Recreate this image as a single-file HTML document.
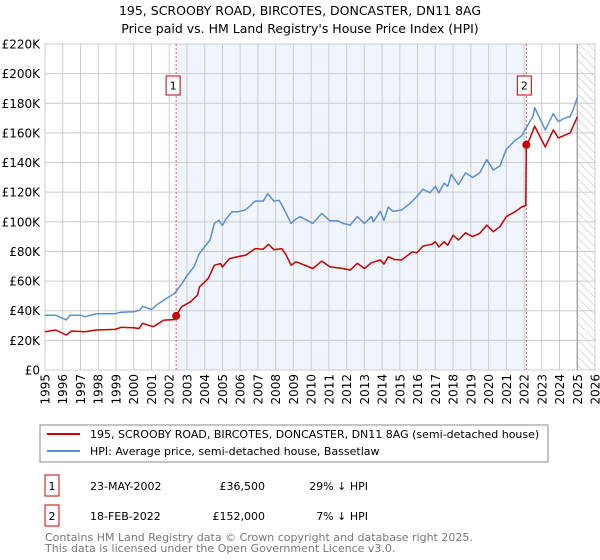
<!DOCTYPE html>
<html><head><meta charset="utf-8"><style>
body{margin:0;background:#fff;font-family:"DejaVu Sans","Liberation Sans",sans-serif;}
svg{display:block}
</style></head><body>
<svg id="c" width="600" height="560" xmlns="http://www.w3.org/2000/svg" font-family="DejaVu Sans, Liberation Sans, sans-serif">
<text x="300" y="15" text-anchor="middle" font-size="12.5">195, SCROOBY ROAD, BIRCOTES, DONCASTER, DN11 8AG</text>
<text x="300" y="33" text-anchor="middle" font-size="12.5">Price paid vs. HM Land Registry's House Price Index (HPI)</text>
<defs><pattern id="hatch" width="6" height="6" patternUnits="userSpaceOnUse" patternTransform="rotate(-45)"><line x1="0" y1="0" x2="0" y2="6" stroke="#bbb" stroke-width="1"/></pattern></defs>
<g id="plot"></g>
<g>
<rect x="40" y="425" width="508" height="37" fill="#fff" stroke="#888"/>
<line x1="47" y1="434" x2="80" y2="434" stroke="#cc0000" stroke-width="2"/>
<text x="90" y="438" font-size="11">195, SCROOBY ROAD, BIRCOTES, DONCASTER, DN11 8AG (semi-detached house)</text>
<line x1="47" y1="451" x2="80" y2="451" stroke="#5b8fd4" stroke-width="2"/>
<text x="90" y="455" font-size="11">HPI: Average price, semi-detached house, Bassetlaw</text>
</g>
<g font-size="11">
<rect x="45" y="475" width="14" height="21" fill="#fff" stroke="#cc0000"/>
<text x="52" y="490" text-anchor="middle">1</text>
<text x="90" y="490">23-MAY-2002</text>
<text x="265" y="490" text-anchor="end">£36,500</text>
<text x="368" y="490" text-anchor="end">29% ↓ HPI</text>
<rect x="45" y="505" width="14" height="21" fill="#fff" stroke="#cc0000"/>
<text x="52" y="520" text-anchor="middle">2</text>
<text x="90" y="520">18-FEB-2022</text>
<text x="265" y="520" text-anchor="end">£152,000</text>
<text x="368" y="520" text-anchor="end">7% ↓ HPI</text>
</g>
<text x="45" y="541" font-size="11" fill="#777">Contains HM Land Registry data © Crown copyright and database right 2025.</text>
<text x="45" y="552" font-size="11" fill="#777">This data is licensed under the Open Government Licence v3.0.</text>
</svg>
<script>
const hpiYears=[1995.0,1995.6,1996.2,1996.4,1997.0,1997.25,1997.9,1998.94,1999.3,2000.0,2000.35,2000.5,2001.0,2001.3,2001.75,2002.3,2002.7,2002.96,2003.4,2003.7,2004.3,2004.55,2004.8,2005.0,2005.2,2005.55,2005.9,2006.3,2006.85,2007.3,2007.55,2007.9,2008.2,2008.5,2008.87,2009.15,2009.37,2010.1,2010.6,2011.06,2011.5,2011.8,2012.2,2012.6,2013.0,2013.4,2013.5,2013.9,2014.1,2014.35,2014.6,2015.1,2015.6,2015.95,2016.3,2016.7,2017.0,2017.2,2017.5,2017.7,2017.9,2018.3,2018.7,2019.1,2019.5,2019.9,2020.27,2020.64,2021.0,2021.5,2021.87,2022.15,2022.5,2022.6,2023.2,2023.65,2023.93,2024.3,2024.6,2024.8,2025.0];
const hpiValues=[37,37,33.8,37,37,36,38,38,39,39.3,40.4,43,40.8,44,47.6,51.6,58,62.9,69.7,78.7,87.7,98.9,101,97.5,102,106.8,106.8,108,114,114,119,114,114.6,108,98.9,102,103.5,98.9,105.7,100.7,100.7,98.9,97.8,103.5,98.9,103.5,100,107,101,110,107,108,112.6,117,122,119.6,124,119.6,126,124,132,125,133,130,133,142,135,137.7,149,155,158,164,171,177,162,173,167.6,170,171,176.6,184];
const priceYears=[1995.0,1995.6,1996.2,1996.5,1997.25,1997.9,1998.94,1999.3,2000.0,2000.3,2000.5,2001.1,2001.7,2002.3,2002.39,2002.7,2003.2,2003.6,2003.7,2004.2,2004.55,2004.9,2005.0,2005.4,2005.8,2006.3,2006.85,2007.3,2007.6,2007.9,2008.35,2008.6,2008.87,2009.15,2009.37,2010.1,2010.6,2011.06,2011.8,2012.2,2012.6,2013.0,2013.4,2013.9,2014.1,2014.35,2014.7,2015.1,2015.7,2015.95,2016.3,2016.8,2017.0,2017.2,2017.5,2017.7,2018.0,2018.3,2018.7,2019.1,2019.5,2019.9,2020.27,2020.64,2021.0,2021.5,2021.87,2022.1,2022.13,2022.3,2022.6,2023.2,2023.65,2023.93,2024.6,2025.0];
const priceValues=[25.8,27,23.6,26.3,25.8,27,27.4,28.8,28.5,28,31.5,29.2,33.7,34,36.5,42.7,46,50.6,56,61.7,70.7,71.8,69.5,75.2,76.3,77.4,81.9,81.5,84.8,81.2,81.9,77.4,70.7,73,72,68.5,73.5,69.6,68.5,67.4,72,68.5,72.4,74.2,71.5,76.4,74.6,74.2,79.8,79,83.6,84.9,86.5,83.1,86.5,84.2,91,87.7,92.6,90,92.2,97.8,93.3,96.7,103.5,106.8,110,111,152,155.5,164.5,150.5,162,156.6,160,170.8];
const saleYears=[2002.39,2022.13];
const saleValues=[36.5,152];
const saleLabels=["1","2"];
const yTicks=[0,20,40,60,80,100,120,140,160,180,200,220];
const yTickLabels=["£0","£20K","£40K","£60K","£80K","£100K","£120K","£140K","£160K","£180K","£200K","£220K"];
const xTicks=[1995,1996,1997,1998,1999,2000,2001,2002,2003,2004,2005,2006,2007,2008,2009,2010,2011,2012,2013,2014,2015,2016,2017,2018,2019,2020,2021,2022,2023,2024,2025,2026];

const L=45,R=595,T=44,B=370;
const X=y=>L+(y-1995)/(2026-1995)*(R-L);
const Y=v=>B-v/220*(B-T);
const NS="http://www.w3.org/2000/svg";
const g=document.getElementById('plot');
function mk(t,a,p){const e=document.createElementNS(NS,t);for(const k in a)e.setAttribute(k,a[k]);(p||g).appendChild(e);return e;}
let bg=mk('rect',{x:X(saleYears[0]),y:T,width:X(saleYears[1])-X(saleYears[0]),height:B-T,fill:'#f0f4fc'});


let ht=mk('rect',{x:X(2025),y:T,width:R-X(2025),height:B-T,fill:'url(#hatch)'});


yTicks.forEach((v,i)=>{
 let l=mk('line',{x1:L,x2:R,y1:Y(v),y2:Y(v),stroke:'#ccc'});
 
 
 let t=mk('text',{x:L-5,y:Y(v)+4.5,'text-anchor':'end','font-size':12});
 
 
 t.textContent=yTickLabels[i];
});
xTicks.forEach(yr=>{
 let l=mk('line',{x1:X(yr),x2:X(yr),y1:T,y2:B,stroke:'#ccc'});
 
 
 let t=mk('text',{transform:`translate(${X(yr)+4.5},${B+4}) rotate(-90)`,'text-anchor':'end','font-size':12});
 
 
 t.textContent=yr;
});
let fr=mk('rect',{x:L,y:T,width:R-L,height:B-T,fill:'none',stroke:'#ccc'});


let nl=mk('line',{x1:X(2025),x2:X(2025),y1:T,y2:B,stroke:'#999','stroke-width':1.2});


saleYears.forEach((yr,i)=>{
 let l=mk('line',{x1:X(yr),x2:X(yr),y1:T,y2:B,stroke:'#e06060','stroke-dasharray':'2,2'});
 
 
});
function path(xs,vs,col,name){
 let d=xs.map((x,i)=>(i?'L':'M')+X(x).toFixed(1)+','+Y(vs[i]).toFixed(1)).join('');
 let p=mk('path',{d:d,fill:'none',stroke:col,'stroke-width':1.5,'stroke-linejoin':'round'});
 
 
}
path(hpiYears,hpiValues,'#5b8fd4','hpi-line');
path(priceYears,priceValues,'#cc0000','price-line');
saleYears.forEach((yr,i)=>{
 let c=mk('circle',{cx:X(yr),cy:Y(saleValues[i]),r:4,fill:'#cc0000'});
 
 
 let bx=X(yr)-7-(i===0?3:2);
 let r=mk('rect',{x:bx,y:76,width:14,height:19,fill:'#fff',stroke:'#cc0000'});
 
 
 let t=mk('text',{x:bx+7,y:89.5,'text-anchor':'middle','font-size':11});
 
 
 t.textContent=saleLabels[i];
});
</script>
</body></html>
